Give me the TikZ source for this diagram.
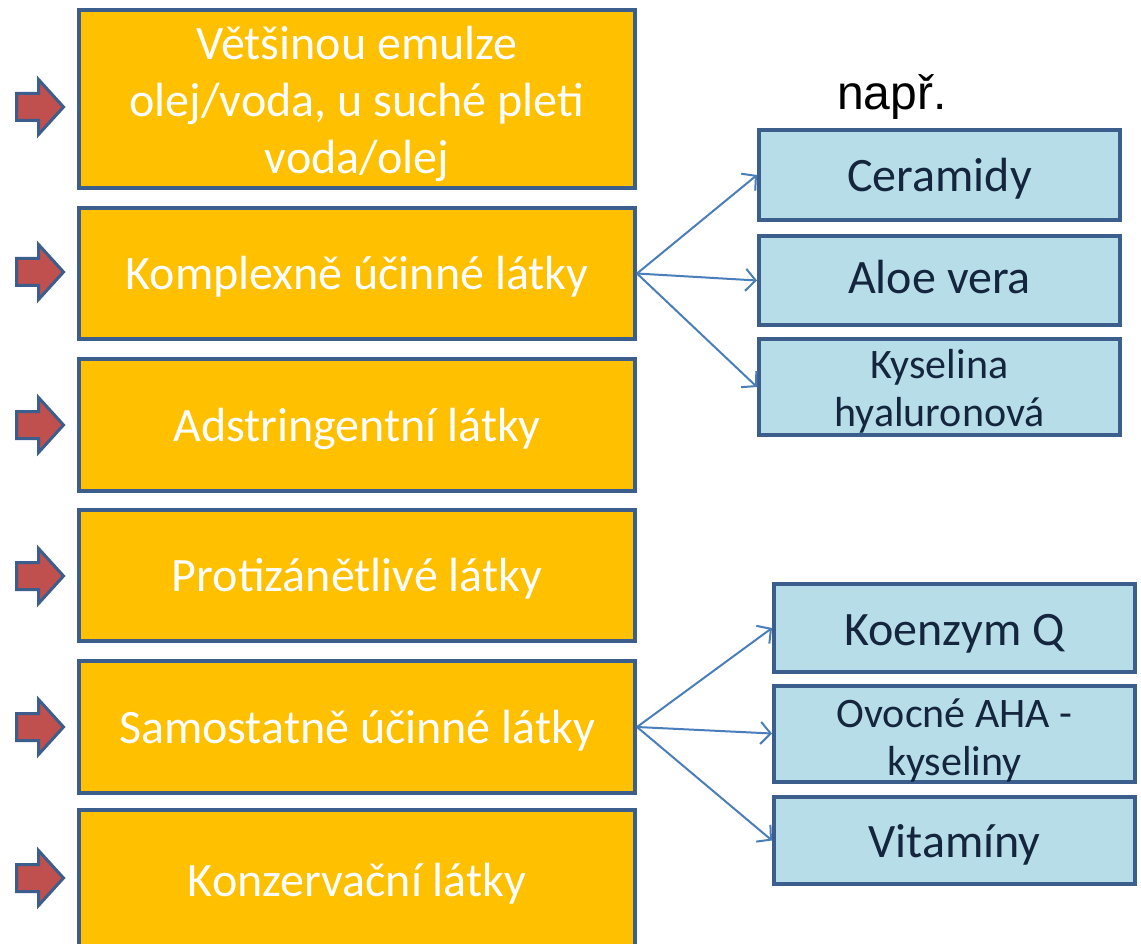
\documentclass[tikz,border=0pt]{standalone}
\usepackage{fontspec}
\setmainfont{Carlito}
\newfontfamily\arialfont{Liberation Sans}
\usetikzlibrary{arrows.meta}
\definecolor{boxorange}{HTML}{FFC000}
\definecolor{boxline}{HTML}{3B5E8C}
\definecolor{boxblue}{HTML}{B7DEE8}
\definecolor{bluetext}{HTML}{14253D}
\definecolor{connline}{HTML}{4A7EBB}
\definecolor{ptrred}{HTML}{C0504D}
\newcommand{\lowtxt}[2][5pt]{\raisebox{-#1}[\height][\depth]{\begin{tabular}{@{}c@{}}#2\end{tabular}}}
\tikzset{
  obox/.style={draw=boxline, line width=4pt, fill=boxorange, text=white,
    minimum width=556pt, inner sep=0pt, align=center,
    font=\fontsize{48}{57}\selectfont},
  bbox/.style={draw=boxline, line width=4pt, fill=boxblue, text=bluetext,
    minimum width=361pt, inner sep=0pt, align=center,
    font=\fontsize{48}{50}\selectfont},
  bsmall/.style={font=\fontsize{42}{48}\selectfont},
  conn/.style={draw=connline, line width=2pt,
    -{Straight Barb[length=10pt,width=22pt,line width=2pt]}},
  pointer/.style={draw=boxline, line width=3pt, fill=ptrred, line join=miter}
}
\begin{document}
\begin{tikzpicture}[x=1pt,y=-1pt]
\useasboundingbox (0,0) rectangle (1141,944);
\clip (0,0) rectangle (1141,944);
\fill[white] (0,0) rectangle (1141,944);

% orange boxes
\node[obox, minimum height=178pt] (o1) at (357,99) {\lowtxt[6pt]{Většinou emulze\\olej/voda, u suché pleti\\voda/olej}};
\node[obox, minimum height=131pt] (o2) at (357,273.5) {\lowtxt{Komplexně účinné látky}};
\node[obox, minimum height=132pt] (o3) at (357,425) {\lowtxt{Adstringentní látky}};
\node[obox, minimum height=131pt] (o4) at (357,575.5) {\lowtxt{Protizánětlivé látky}};
\node[obox, minimum height=132pt] (o5) at (357,727) {\lowtxt{Samostatně účinné látky}};
\node[obox, minimum height=140pt] (o6) at (357,880) {\lowtxt{Konzervační látky}};

% pointers
\foreach \y in {107, 272, 425, 576, 727, 878}{
  \draw[pointer, shift={(0,\y)}] (16.5,-13.5) -- (38.5,-13.5) -- (38.5,-27.5)
    -- (63.5,0) -- (38.5,27.5) -- (38.5,13.5) -- (16.5,13.5) -- cycle;
}

% label
\node[font=\arialfont\fontsize{48}{52}\selectfont, text=black, inner sep=0pt] (napr) at (892,97) {např.};

% blue boxes, top group
\node[bbox, minimum height=90pt] (b1) at (939.5,175) {\lowtxt[7pt]{Ceramidy}};
\node[bbox, minimum height=89pt] (b2) at (939.5,280.5) {\lowtxt[3pt]{Aloe vera}};
\node[bbox, bsmall, minimum height=88pt] (b3) at (939.5,387) {\lowtxt[6pt]{Kyselina\\hyaluronová}};

% blue boxes, bottom group
\node[bbox, minimum height=88pt] (b4) at (954.5,628) {\lowtxt[7pt]{Koenzym Q}};
\node[bbox, bsmall, minimum height=87pt] (b5) at (954.5,733.5) {\lowtxt[8pt]{Ovocné AHA -\\kyseliny}};
\node[bbox, minimum height=87pt] (b6) at (954.5,840.5) {\lowtxt[7pt]{Vitamíny}};

% connectors
\draw[conn] (o2.east) -- (b1.west);
\draw[conn] (o2.east) -- (b2.west);
\draw[conn] (o2.east) -- (b3.west);
\draw[conn] (o5.east) -- (b4.west);
\draw[conn] (o5.east) -- (b5.west);
\draw[conn] (o5.east) -- (b6.west);
\end{tikzpicture}
\end{document}
